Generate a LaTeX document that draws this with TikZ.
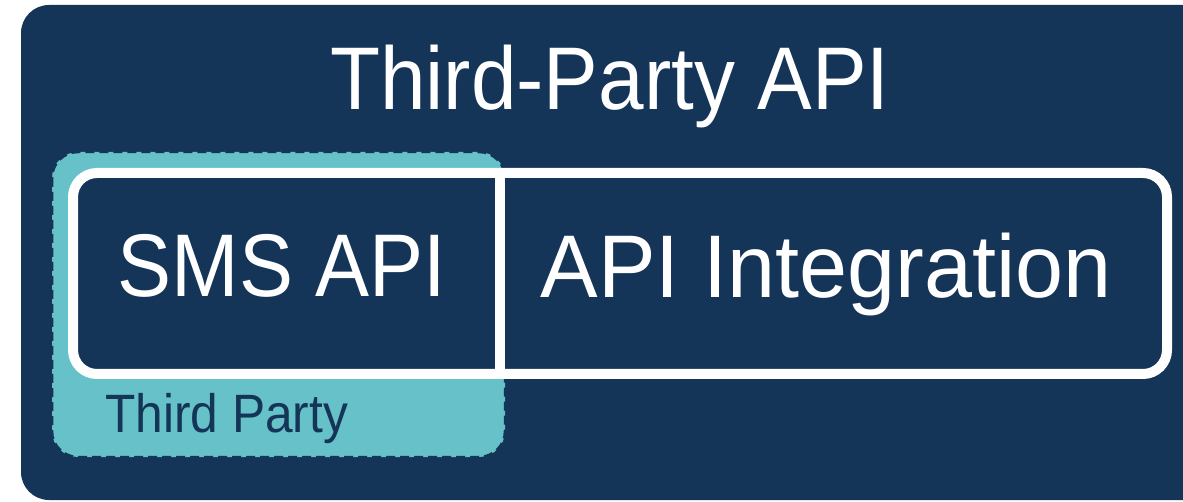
\documentclass[tikz,border=0pt]{standalone}
\usepackage{fontspec}
\setmainfont{Liberation Sans}
\definecolor{navy}{RGB}{20,52,88}
\definecolor{teal}{RGB}{102,193,200}
\begin{document}
\begin{tikzpicture}[x=1pt,y=-1pt,
  outerbox/.style={fill=navy,rounded corners=28pt},
  tpbox/.style={fill=teal,draw=navy,line width=2.5pt,dash pattern=on 9pt off 5pt,rounded corners=26pt},
  whitebox/.style={draw=white,fill=navy,line width=10pt,rounded corners=24pt},
  bigtext/.style={text=white,anchor=base,inner sep=0pt,font=\fontsize{89}{100}\selectfont},
  smalltext/.style={text=navy,anchor=base west,inner sep=0pt,font=\fontsize{54}{60}\selectfont}]
\useasboundingbox (0,0) rectangle (1183,502);
\clip (0,0) rectangle (1183,502);
\fill[white] (0,0) rectangle (1183,502);
\path[outerbox] (21,5) rectangle (1215,500);
\path[tpbox] (52,152) rectangle (505,457);
\draw[whitebox] (73,173) rectangle (1167,374);
\coordinate (dtop) at (500,173);
\coordinate (dbot) at (500,374);
\draw[white,line width=10pt] (dtop) -- (dbot);
\node[bigtext] (title) at (610,110) {\scalebox{0.92}[1]{Third-Party API}};
\node[bigtext] (sms) at (282,297) {\scalebox{0.91}[1]{SMS API}};
\node[bigtext] (integ) at (826,298) {\scalebox{0.97}[1]{API Integration}};
\node[smalltext] (tp) at (105,432) {\scalebox{0.92}[1]{Third Party}};
\end{tikzpicture}
\end{document}
